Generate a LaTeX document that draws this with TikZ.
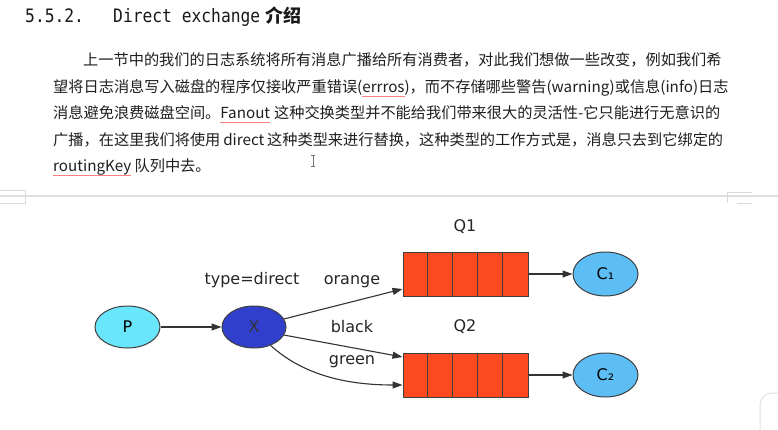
\documentclass[tikz,border=0pt]{standalone}
\usepackage{fontspec}
\usetikzlibrary{shapes.geometric,arrows.meta}
\setmainfont{Noto Sans CJK SC}
\newfontfamily\headmono[FakeStretch=0.88]{DejaVu Sans Mono}
\newfontfamily\dv{DejaVu Sans}
\XeTeXlinebreaklocale "zh"
\XeTeXlinebreakskip=0pt plus 3pt minus 0.5pt
\definecolor{pcyan}{RGB}{105,230,252}
\definecolor{xblue}{RGB}{48,64,204}
\definecolor{qred}{RGB}{252,74,32}
\definecolor{cblue}{RGB}{92,190,245}
\newsavebox\spellbox
\newcommand\spell[1]{\sbox\spellbox{#1}\rlap{\textcolor{red!50}{\rule[-3.2pt]{\wd\spellbox}{0.5pt}}}\usebox\spellbox}
\begin{document}
\begin{tikzpicture}[x=1pt,y=-1pt,
  lab/.style={font=\dv\fontsize{16}{16}\selectfont, text=black!85, inner sep=0},
  ell/.style={ellipse, draw=black!75, line width=1pt, inner sep=0},
  arr/.style={draw=black!80, line width=1.1pt, -{Triangle[length=10pt,width=7pt]}},
  para/.style={anchor=base west, inner sep=0, font=\fontsize{15.2}{15.2}\selectfont, text=black!88},
  head/.style={anchor=base west, inner sep=0, text=black!90},
  queue/.style={rectangle, draw=black!75, line width=1pt, fill=qred, minimum width=125pt, minimum height=44pt, inner sep=0},
  deco/.style={draw=black!15, line width=0.8pt}
]
\fill[white] (0,0) rectangle (778,430);
\useasboundingbox (0,0) rectangle (778,430);

% heading
\node[head, font=\headmono\fontsize{18.5}{18.5}\selectfont] (hnum) at (25,23) {5.5.2.};
\node[head, font=\headmono\fontsize{18.5}{18.5}\selectfont] (htitle) at (113,23) {Direct exchange};
\node[head, font=\bfseries\fontsize{18}{18}\selectfont] (hcjk) at (265,23) {介绍};

% paragraph
\node[para] (l1) at (83,66) {\hbox to 640pt{上一节中的我们的日志系统将所有消息广播给所有消费者，对此我们想做一些改变，例如我们希}};
\node[para] (l2) at (53,93) {\hbox to 674pt{望将日志消息写入磁盘的程序仅接收严重错误(\spell{errros})，而不存储哪些警告(warning)或信息(info)日志}};
\node[para] (l3) at (53,119) {\hbox to 667pt{消息避免浪费磁盘空间。\spell{Fanout} 这种交换类型并不能给我们带来很大的灵活性-它只能进行无意识的}};
\node[para] (l4) at (53,146) {\hbox to 670pt{广播，在这里我们将使用 direct 这种类型来进行替换，这种类型的工作方式是，消息只去到它绑定的}};
\node[para] (l5) at (53,172) {\spell{routingKey} 队列中去。};

% cursor
\draw[black!55, line width=0.7pt] (313,155) -- (313,166) (311,155) -- (315,155) (311,166) -- (315,166);

% separator and page artefacts
\draw[draw=black!13, line width=1.8pt] (0,196) -- (778,196);
\draw[deco] (0,190.5) -- (25,190.5) -- (25,203) -- (0,203);
\draw[deco] (752,192) -- (727,192) -- (727,203);
\draw[deco] (737,203) -- (752,203);
\draw[draw=black!12, line width=1pt] (760,430) -- (760,405) arc[start angle=180, end angle=270, radius=12] -- (778,393);

% diagram
\node[ell, fill=pcyan, minimum width=65pt, minimum height=42pt, font=\dv\fontsize{16}{16}\selectfont] (P) at (127.5,327) {P};
\node[ell, fill=xblue, minimum width=64pt, minimum height=42pt, font=\dv\fontsize{16}{16}\selectfont, text=black!80] (X) at (254,327) {X};
\node[queue] (Q1) at (465.5,274) {};
\node[queue] (Q2) at (465.5,375) {};
\foreach \q in {Q1,Q2}{
  \foreach \i in {1,...,4}{
    \draw[draw=black!75, line width=1pt] ([xshift=\i*25pt]\q.north west) -- ([xshift=\i*25pt]\q.south west);
  }
}
\node[ell, fill=cblue, minimum width=65pt, minimum height=44pt, font=\dv\fontsize{16}{16}\selectfont] (C1) at (605.5,274) {C₁};
\node[ell, fill=cblue, minimum width=65pt, minimum height=44pt, font=\dv\fontsize{16}{16}\selectfont] (C2) at (605.5,375) {C₂};

\node[lab] (tq1) at (465,227) {Q1};
\node[lab] (tq2) at (465,327) {Q2};
\node[lab] (ttype) at (252,280) {type=direct};
\node[lab] (torange) at (352,282) {orange};
\node[lab] (tblack) at (352,327) {black};
\node[lab] (tgreen) at (352,362) {green};

\coordinate (q1in) at ([yshift=-15pt]Q1.west);
\coordinate (q2a) at ([yshift=18pt]Q2.west);
\coordinate (q2b) at ([yshift=-10pt]Q2.west);

\draw[arr] (P) -- (X);
\draw[arr] (X.15) -- (q1in);
\draw[arr] (X.-15) -- (q2a);
\draw[arr] (X.-48) .. controls (300,372) and (340,385) .. (q2b);
\draw[arr] (Q1) -- (C1);
\draw[arr] (Q2) -- (C2);
\end{tikzpicture}
\end{document}
